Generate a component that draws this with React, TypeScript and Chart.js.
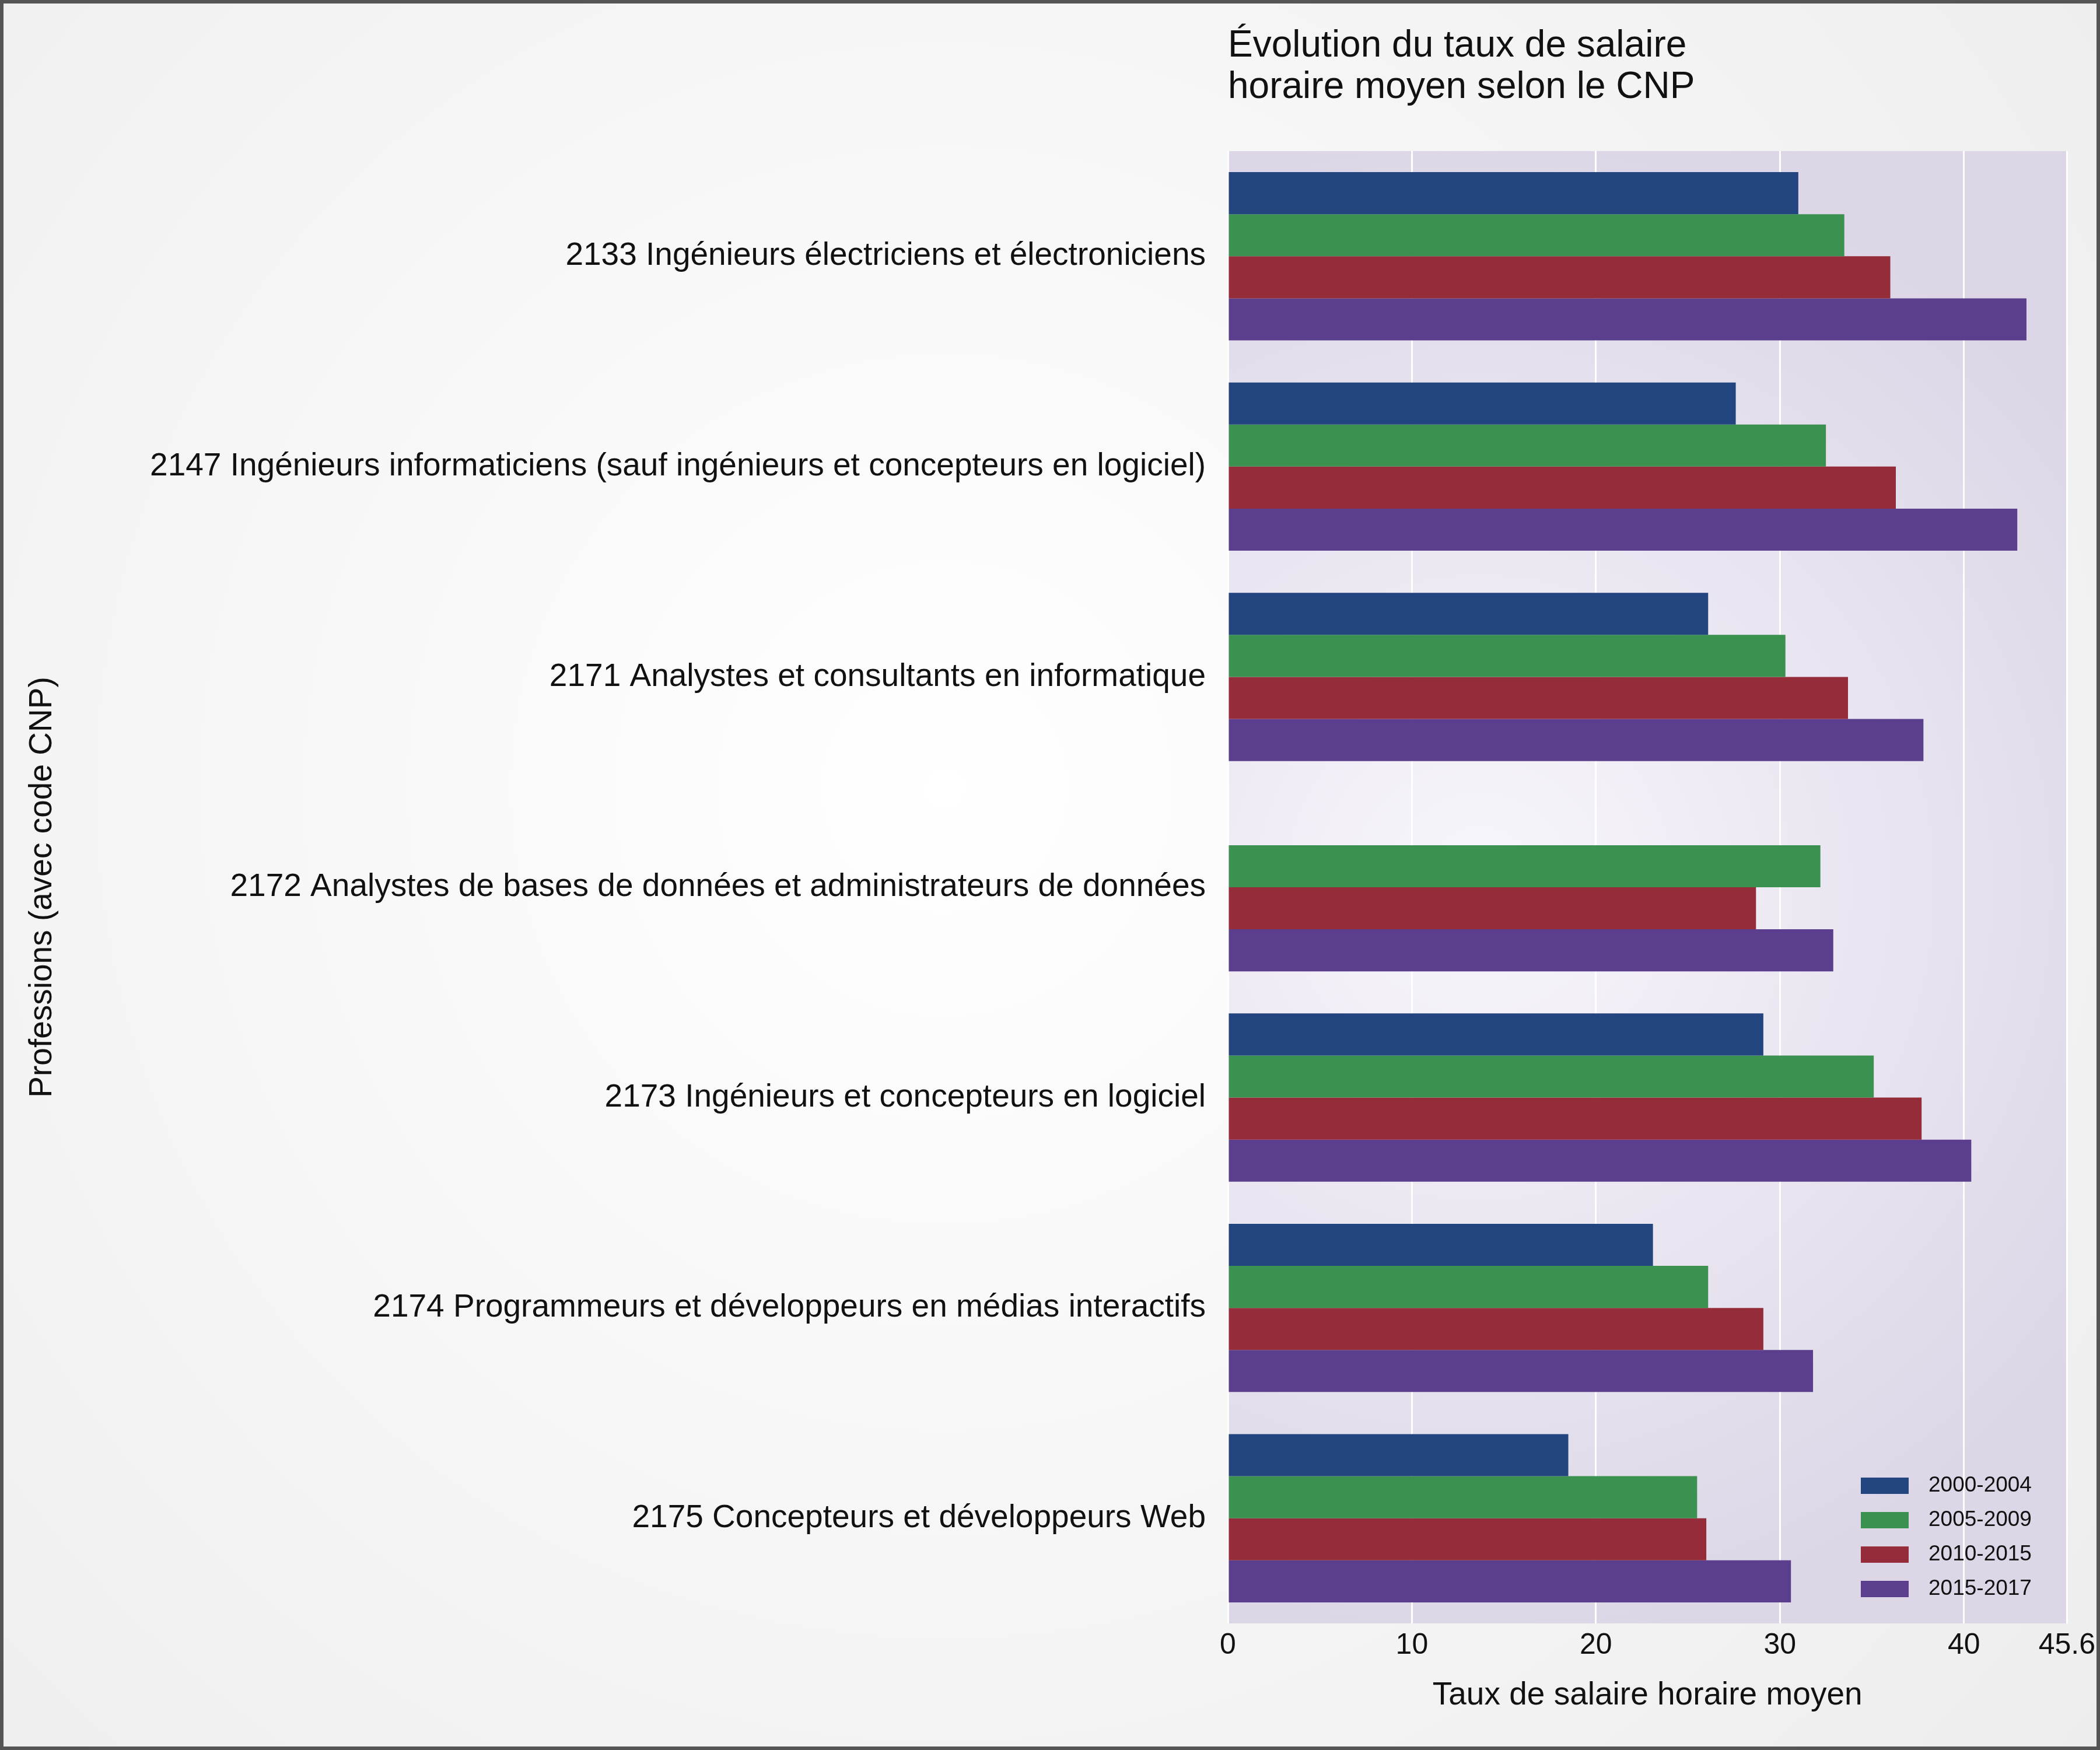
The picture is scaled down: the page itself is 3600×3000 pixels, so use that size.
import React, { useEffect, useRef } from "react";
import { Chart, registerables } from "chart.js";
Chart.register(...registerables);

const categories = [
  "2133 Ingénieurs électriciens et électroniciens",
  "2147 Ingénieurs informaticiens (sauf ingénieurs et concepteurs en logiciel)",
  "2171 Analystes et consultants en informatique",
  "2172 Analystes de bases de données et administrateurs de données",
  "2173 Ingénieurs et concepteurs en logiciel",
  "2174 Programmeurs et développeurs en médias interactifs",
  "2175 Concepteurs et développeurs Web",
];
const periods = ["2000-2004", "2005-2009", "2010-2015", "2015-2017"];
const s2000 = [31.0, 27.6, 26.1, null, 29.1, 23.1, 18.5];
const s2005 = [33.5, 32.5, 30.3, 32.2, 35.1, 26.1, 25.5];
const s2010 = [36.0, 36.3, 33.7, 28.7, 37.7, 29.1, 26.0];
const s2015 = [43.4, 42.9, 37.8, 32.9, 40.4, 31.8, 30.6];
const colors = ["#23457f", "#3a9150", "#952c39", "#5b3f8e"];
const FONT = "'Liberation Sans', Arial, sans-serif";

const bgPlugin = {
  id: "bg",
  beforeDraw(chart: any) {
    const { ctx, width, height, chartArea: a } = chart;
    ctx.save();
    let g = ctx.createRadialGradient(width * 0.45, height * 0.45, 0, width * 0.45, height * 0.45, width * 0.75);
    g.addColorStop(0, "#ffffff");
    g.addColorStop(1, "#ececec");
    ctx.fillStyle = g;
    ctx.fillRect(0, 0, width, height);
    ctx.strokeStyle = "#555";
    ctx.lineWidth = 6;
    ctx.strokeRect(3, 3, width - 6, height - 6);
    g = ctx.createRadialGradient(a.left + a.width * 0.3, a.top + a.height * 0.5, 0, a.left + a.width * 0.3, a.top + a.height * 0.5, a.width * 0.9);
    g.addColorStop(0, "#f8f6fc");
    g.addColorStop(1, "#dcd6e6");
    ctx.fillStyle = g;
    ctx.fillRect(a.left, a.top, a.width, a.height);
    ctx.restore();
  },
  afterDraw(chart: any) {
    const { ctx, chartArea: a } = chart;
    ctx.save();
    ctx.fillStyle = "#111";
    ctx.font = `64px ${FONT}`;
    ctx.textBaseline = "alphabetic";
    ctx.textAlign = "left";
    ctx.fillText("Évolution du taux de salaire", a.left, 97);
    ctx.fillText("horaire moyen selon le CNP", a.left, 168);
    ctx.font = `37px ${FONT}`;
    ctx.textBaseline = "middle";
    periods.forEach((p, i) => {
      const y = 2547 + i * 59;
      ctx.fillStyle = colors[i];
      ctx.fillRect(3190, y - 14, 82, 28);
      ctx.fillStyle = "#111";
      ctx.fillText(p, 3306, y);
    });
    ctx.restore();
  },
};

export default function App() {
  const ref = useRef<HTMLCanvasElement>(null);
  useEffect(() => {
    document.body.style.margin = "0";
    const series = [s2000, s2005, s2010, s2015];
    const chart = new Chart(ref.current!, {
      type: "bar",
      data: {
        labels: categories,
        datasets: periods.map((p, i) => ({
          label: p,
          data: series[i] as any,
          backgroundColor: colors[i],
          categoryPercentage: 0.8,
          barPercentage: 1,
        })),
      },
      options: {
        indexAxis: "y",
        animation: false,
        responsive: false,
        layout: { padding: { top: 259, right: 53, bottom: 60, left: 0 } },
        plugins: { legend: { display: false }, title: { display: false }, tooltip: { enabled: false } },
        scales: {
          x: {
            min: 0,
            max: 45.6,
            ticks: { stepSize: 10, color: "#111", font: { size: 50, family: FONT }, padding: 8 },
            grid: { color: "#ffffff", lineWidth: 3, drawTicks: false },
            border: { display: false },
            title: { display: true, text: "Taux de salaire horaire moyen", color: "#111", font: { size: 55, family: FONT }, padding: 0 },
            afterFit: (s: any) => { s.height = 157; },
          },
          y: {
            ticks: { color: "#111", font: { size: 55, family: FONT }, padding: 30 },
            grid: { display: false },
            border: { display: false },
            title: { display: true, text: "Professions (avec code CNP)", color: "#111", font: { size: 55, family: FONT }, padding: { top: 40, bottom: 0 } },
            afterFit: (s: any) => { s.width = 2105; },
          },
        },
      },
      plugins: [bgPlugin],
    });
    return () => chart.destroy();
  }, []);
  return <canvas ref={ref} width={3600} height={3000} style={{ display: "block" }} />;
}
